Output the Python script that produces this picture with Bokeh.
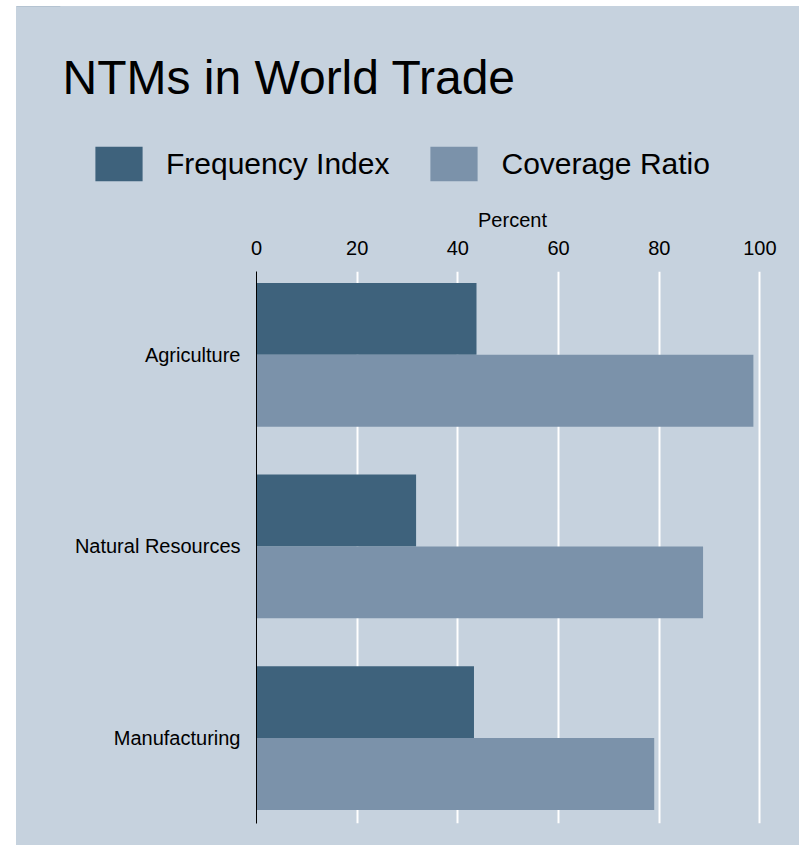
from bokeh.plotting import figure
from bokeh.models import (Range1d, FixedTicker, Label, Legend, LegendItem,
                          Spacer, ColumnDataSource)
from bokeh.layouts import row, column
from bokeh.embed import file_html
from bokeh.resources import INLINE

# ---------------- data ----------------
categories = ["Agriculture", "Natural Resources", "Manufacturing"]
frequency_index = [43.7, 31.7, 43.2]
coverage_ratio = [98.7, 88.7, 79.0]
x_ticks = [0, 20, 40, 60, 80, 100]
series_names = ["Frequency Index", "Coverage Ratio"]
title_text = "NTMs in World Trade"
axis_title = "Percent"

# ---------------- style ----------------
BG = "#c6d2de"
DARK = "#3e627c"
LIGHT = "#7b92aa"
FONT = "Liberation Sans"

TOTAL_W = 783
HEAD_H = 190
MAIN_H = 649
FRAME_L, FRAME_T, FRAME_W, FRAME_H = 240, 75, 512, 552
X_START, X_END = 0, 101.7
Y_TOP, Y_BOTTOM = -0.435, 2.446
BAR_H = 0.375

pos = list(range(len(categories)))
src = ColumnDataSource(dict(
    cat=categories,
    freq=frequency_index,
    cov=coverage_ratio,
    freq_y=[v - BAR_H / 2 for v in pos],
    cov_y=[v + BAR_H / 2 for v in pos],
))

# ---------------- header (title + legend) ----------------
head = figure(width=TOTAL_W, height=HEAD_H,
              x_range=Range1d(0, TOTAL_W), y_range=Range1d(HEAD_H, 0),
              x_axis_location=None, y_axis_location=None,
              toolbar_location=None, output_backend="svg", min_border=0,
              styles={"background-color": BG})
head.frame_align = False
head.grid.visible = False
head.background_fill_color = BG
head.border_fill_color = BG
head.outline_line_color = None

# legend-only renderers (zero height, so nothing is drawn in the header)
d1 = head.hbar(y="freq_y", right="freq", left=0, height=0, source=src,
               fill_color=DARK, line_color=None)
d2 = head.hbar(y="cov_y", right="cov", left=0, height=0, source=src,
               fill_color=LIGHT, line_color=None)

legend = Legend(
    items=[LegendItem(label=series_names[0], renderers=[d1]),
           LegendItem(label=series_names[1], renderers=[d2])],
    orientation="horizontal",
    location=(73, HEAD_H - 179),
    glyph_width=59, glyph_height=43,
    label_standoff=18, spacing=35,
    padding=0, margin=0,
    border_line_color=None,
    background_fill_alpha=0,
    label_text_font=FONT,
    label_text_font_size="30px",
    label_text_color="black",
)
head.add_layout(legend)

head.add_layout(Label(x=46, y=71, text=title_text,
                      text_font=FONT, text_font_size="48px",
                      text_baseline="alphabetic", text_align="left",
                      text_color="black"))

# ---------------- main chart ----------------
p = figure(width=TOTAL_W, height=MAIN_H,
           x_range=Range1d(X_START, X_END),
           y_range=Range1d(Y_BOTTOM, Y_TOP),
           x_axis_location="above",
           toolbar_location=None, output_backend="svg",
           min_border_left=FRAME_L, min_border_top=FRAME_T,
           min_border_right=TOTAL_W - FRAME_L - FRAME_W,
           min_border_bottom=MAIN_H - FRAME_T - FRAME_H,
           styles={"background-color": BG})
p.frame_align = False
p.background_fill_color = BG
p.border_fill_color = BG
p.outline_line_color = None

p.xgrid.ticker = FixedTicker(ticks=x_ticks)
p.xgrid.grid_line_color = "white"
p.xgrid.grid_line_width = 2
p.ygrid.grid_line_color = None

xa = p.xaxis[0]
xa.ticker = FixedTicker(ticks=x_ticks)
xa.axis_line_color = None
xa.major_tick_line_color = None
xa.minor_tick_line_color = None
xa.major_tick_out = 0
xa.major_tick_in = 0
xa.major_label_standoff = 17
xa.major_label_text_font = FONT
xa.major_label_text_font_size = "20px"
xa.major_label_text_color = "black"
xa.axis_label = axis_title
xa.axis_label_text_font = FONT
xa.axis_label_text_font_size = "20px"
xa.axis_label_text_font_style = "normal"
xa.axis_label_text_color = "black"
xa.axis_label_standoff = 7

ya = p.yaxis[0]
ya.ticker = FixedTicker(ticks=pos)
ya.major_label_overrides = {i: c for i, c in zip(pos, categories)}
ya.axis_line_color = "black"
ya.axis_line_width = 1
ya.major_tick_line_color = None
ya.minor_tick_line_color = None
ya.major_tick_out = 0
ya.major_tick_in = 0
ya.major_label_standoff = 16
ya.major_label_text_font = FONT
ya.major_label_text_font_size = "20px"
ya.major_label_text_color = "black"

p.hbar(y="freq_y", left=0, right="freq", height=BAR_H, source=src,
       fill_color=DARK, line_color=None)
p.hbar(y="cov_y", left=0, right="cov", height=BAR_H, source=src,
       fill_color=LIGHT, line_color=None)

charts = column(head, p, styles={"background-color": BG})
layout = column(Spacer(width=TOTAL_W + 16, height=6),
                row(Spacer(width=16, height=HEAD_H + MAIN_H), charts))

open("out.html", "w").write(file_html(layout, INLINE))
